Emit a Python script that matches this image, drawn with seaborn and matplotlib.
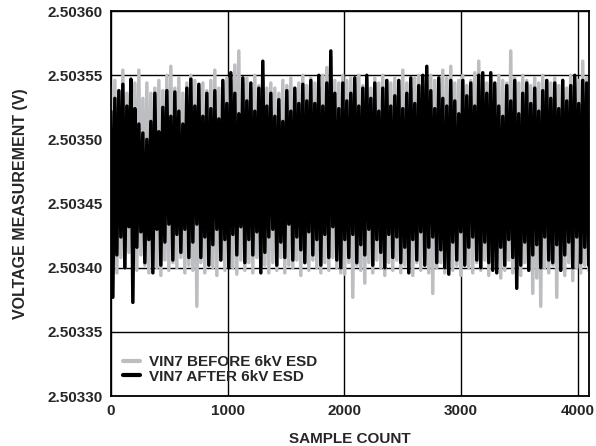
import numpy as np
import pandas as pd
import matplotlib
matplotlib.use("Agg")
import matplotlib.pyplot as plt
from matplotlib.ticker import FormatStrFormatter, MultipleLocator
import seaborn as sns

# Readings are stored in microvolts above the 2.50330 V baseline.
BASE_V = 2.50330

# Successive upper peaks of the trace after the ESD event
after_hi_uv = [
    222, 232, 238, 243, 226, 247, 224, 212, 205, 200,
    214, 236, 206, 225, 238, 218, 237, 222, 212, 240,
    247, 226, 243, 218, 236, 224, 238, 216, 246, 228,
    252, 236, 220, 248, 230, 244, 222, 240, 261, 226,
    236, 218, 231, 214, 238, 222, 240, 228, 243, 230,
    246, 228, 250, 226, 244, 269, 236, 224, 244, 230,
    236, 248, 226, 240, 250, 232, 244, 222, 240, 246,
    226, 234, 246, 224, 236, 248, 228, 242, 250, 257,
    238, 224, 248, 232, 226, 246, 230, 220, 246, 234,
    244, 226, 250, 252, 236, 252, 244, 226, 218, 242,
    230, 246, 220, 236, 244, 228, 240, 222, 238, 246,
    232, 244, 224, 246, 230, 242, 250, 228, 246, 244,
]
# Successive lower troughs of the trace after the ESD event
after_lo_uv = [
    77, 110, 124, 100, 132, 73, 116, 128, 104, 122,
    96, 130, 102, 120, 134, 106, 126, 112, 130, 108,
    120, 134, 108, 124, 102, 118, 130, 106, 122, 100,
    126, 110, 132, 104, 122, 110, 128, 96, 112, 124,
    130, 102, 120, 108, 134, 106, 124, 114, 104, 128,
    110, 122, 102, 126, 108, 132, 106, 100, 122, 108,
    126, 104, 118, 110, 130, 102, 122, 112, 100, 126,
    108, 124, 104, 116, 96, 122, 106, 128, 102, 116,
    124, 104, 114, 100, 95, 120, 106, 128, 102, 116,
    124, 106, 100, 120, 104, 98, 96, 116, 102, 122,
    108, 84, 102, 120, 98, 110, 118, 100, 124, 106,
    104, 118, 98, 110, 120, 100, 124, 104, 116, 102,
]
# Successive upper peaks of the trace before the ESD event
before_hi_uv = [
    240, 246, 238, 254, 236, 242, 244, 254, 232, 244,
    236, 240, 246, 238, 250, 257, 240, 248, 236, 244,
    250, 246, 240, 244, 238, 246, 254, 240, 244, 248,
    246, 258, 269, 244, 248, 240, 250, 242, 246, 240,
    244, 240, 236, 246, 242, 248, 238, 244, 250, 242,
    248, 244, 240, 250, 256, 264, 246, 244, 250, 246,
    248, 244, 250, 242, 246, 240, 248, 244, 250, 246,
    244, 248, 242, 254, 244, 240, 248, 250, 244, 246,
    250, 246, 244, 254, 248, 257, 244, 246, 250, 242,
    246, 252, 261, 248, 244, 246, 240, 250, 246, 244,
    269, 248, 244, 250, 246, 242, 248, 244, 250, 246,
    244, 248, 242, 246, 240, 250, 244, 246, 261, 248,
]
# Successive lower troughs of the trace before the ESD event
before_lo_uv = [
    104, 96, 108, 100, 112, 104, 98, 110, 102, 96,
    108, 100, 94, 106, 98, 104, 100, 108, 96, 102,
    98, 70, 104, 96, 108, 100, 94, 106, 98, 104,
    100, 95, 106, 98, 104, 96, 108, 100, 102, 96,
    104, 98, 108, 96, 102, 100, 106, 94, 104, 98,
    106, 100, 96, 104, 98, 108, 100, 96, 95, 104,
    77, 102, 98, 88, 104, 96, 106, 100, 94, 104,
    98, 106, 96, 102, 100, 94, 104, 98, 106, 96,
    80, 100, 104, 96, 106, 98, 102, 94, 104, 100,
    96, 104, 98, 106, 94, 100, 104, 92, 98, 106,
    96, 100, 94, 104, 98, 80, 92, 70, 100, 96,
    102, 77, 98, 94, 104, 90, 100, 96, 102, 98,
]

series_names = ["VIN7 BEFORE 6kV ESD", "VIN7 AFTER 6kV ESD"]
series_colors = ["#bdbec2", "#000000"]
n_samples = 4096
x_ticks = [0, 1000, 2000, 3000, 4000]


def interleave(hi, lo):
    out = np.empty(len(hi) + len(lo))
    out[0::2] = hi
    out[1::2] = lo
    return BASE_V + out * 1e-6


frames = []
for name, hi, lo in [(series_names[0], before_hi_uv, before_lo_uv),
                     (series_names[1], after_hi_uv, after_lo_uv)]:
    v = interleave(hi, lo)
    frames.append(pd.DataFrame({
        "sample": np.linspace(0, n_samples - 1, len(v)),
        "volts": v,
        "series": name,
    }))
df = pd.concat(frames, ignore_index=True)

sns.set_style("white")
plt.rcParams["font.family"] = ["Liberation Sans", "DejaVu Sans"]
plt.rcParams["font.weight"] = "bold"

fig = plt.figure(figsize=(5.96, 4.46), dpi=100)
ax = fig.add_axes([0.186, 0.112, 0.802, 0.863])

sns.lineplot(data=df, x="sample", y="volts", hue="series",
             hue_order=series_names, palette=series_colors,
             estimator=None, sort=False, linewidth=2.5, legend=False, ax=ax)

ax.set_xlim(0, n_samples)
ax.set_ylim(2.50330, 2.50360)
ax.set_xticks(x_ticks)
ax.yaxis.set_major_locator(MultipleLocator(0.00005))
ax.yaxis.set_major_formatter(FormatStrFormatter("%.5f"))
ax.grid(True, color="black", linewidth=1.0)
ax.set_axisbelow(True)
for sp in ax.spines.values():
    sp.set_color("black")
    sp.set_linewidth(1.3)
ax.tick_params(length=0, labelsize=11, pad=6)
for lab in ax.get_xticklabels() + ax.get_yticklabels():
    lab.set_fontweight("bold")

ax.set_xlabel("SAMPLE COUNT", fontsize=11, fontweight="bold", labelpad=10)
ax.set_ylabel("VOLTAGE MEASUREMENT (V)", fontsize=11.5, fontweight="bold", labelpad=14)

handles = ax.get_lines()[:2]
leg = ax.legend(handles, series_names, loc="lower left", frameon=False,
                handlelength=1.1, handletextpad=0.6, labelspacing=0.05,
                borderaxespad=0.4, prop={"size": 11, "weight": "bold"})
for h in leg.legend_handles:
    h.set_linewidth(3.0)

fig.savefig("out.png", dpi=100)
